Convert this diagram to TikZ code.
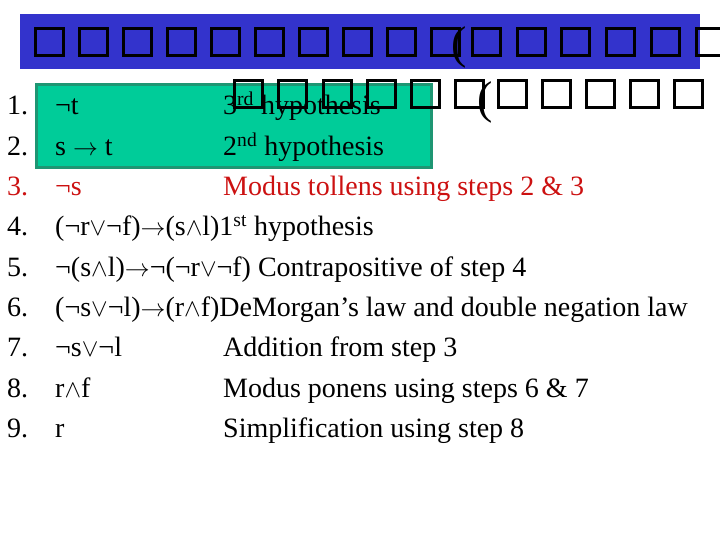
\documentclass[tikz,border=0pt]{standalone}
\usepackage{fontspec}
\setmainfont{Liberation Serif}
\definecolor{titleblue}{RGB}{51,51,204}
\definecolor{boxgreen}{RGB}{0,204,153}
\definecolor{boxedge}{RGB}{30,150,115}
\definecolor{stepred}{RGB}{204,17,17}
\newcommand\lAnd{\ensuremath{\wedge}}
\newcommand\lOr{\ensuremath{\vee}}
\newcommand\lTo{\ensuremath{\rightarrow}}
\tikzset{
  tofu/.style={draw=black,line width=3.2pt},
  paren/.style={anchor=base west,inner sep=0pt,font=\fontsize{46}{50}\selectfont},
  txt/.style={anchor=base west,inner sep=0pt,font=\fontsize{28}{32}\selectfont},
}
\begin{document}
\begin{tikzpicture}[x=1pt,y=-1pt]
\useasboundingbox (0,0) rectangle (720,540);
% title bar
\fill[titleblue] (20,14) rectangle (700,69.5);
\foreach \x in {34,78,122,166,210,254,298,342,386,430,471,516,560,605,650,695}
  \draw[tofu] (\x+1.6,28.6) rectangle (\x+29.4,55.4);
\node[paren] (p1) at (451,59) {(};
% green highlight
\draw[boxedge,fill=boxgreen,line width=3pt] (36.5,84.5) rectangle (431.5,167.5);
% step numbers
\foreach \n/\y in {1/115,2/155.3,4/235.9,5/276.1,6/316.4,7/356.7,8/397,9/437.3}
  \node[txt] (n\n) at (7,\y) {\n.};
\node[txt,text=stepred] (n3) at (7,195.6) {3.};
% formulas and reasons
\node[txt] (f1) at (55,115) {¬t};
\node[txt] (r1) at (223,115) {3\textsuperscript{rd} hypothesis};
\node[txt] (f2) at (55,155.3) {s \lTo{} t};
\node[txt] (r2) at (223,155.3) {2\textsuperscript{nd} hypothesis};
\node[txt,text=stepred] (f3) at (55,195.6) {¬s};
\node[txt,text=stepred] (r3) at (223,195.6) {Modus tollens using steps 2 \& 3};
\node[txt] (f4) at (55,235.9) {(¬r\lOr¬f)\lTo(s\lAnd l)1\textsuperscript{st} hypothesis};
\node[txt] (f5) at (55,276.1) {¬(s\lAnd l)\lTo¬(¬r\lOr¬f) Contrapositive of step 4};
\node[txt] (f6) at (55,316.4) {(¬s\lOr¬l)\lTo(r\lAnd f)DeMorgan’s law and double negation law};
\node[txt] (f7) at (55,356.7) {¬s\lOr¬l};
\node[txt] (r7) at (223,356.7) {Addition from step 3};
\node[txt] (f8) at (55,397) {r\lAnd f};
\node[txt] (r8) at (223,397) {Modus ponens using steps 6 \& 7};
\node[txt] (f9) at (55,437.3) {r};
\node[txt] (r9) at (223,437.3) {Simplification using step 8};
% second title row (overflow)
\foreach \x in {233,277,322,366,410,454,497,541,585,629,673}
  \draw[tofu] (\x+1.6,80.6) rectangle (\x+29.4,107.4);
\node[paren] (p2) at (477,114) {(};
\end{tikzpicture}
\end{document}
